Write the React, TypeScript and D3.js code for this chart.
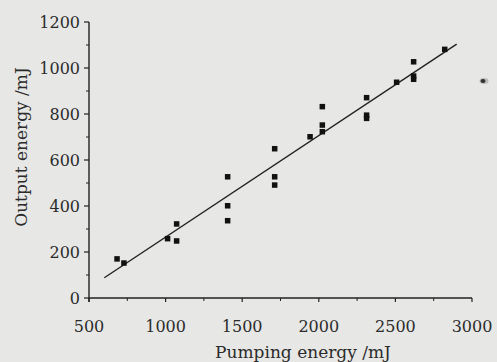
import * as d3 from 'd3';
import { FC } from 'react';

// measured points (pumping energy, output energy)
const pumpEnergy = [683, 728, 1013, 1072, 1072, 1405, 1405, 1405, 1712, 1712, 1712, 1943, 2023, 2023, 2023, 2312, 2312, 2312, 2508, 2619, 2619, 2619, 2822];
const outputEnergy = [170, 152, 258, 322, 248, 527, 401, 336, 649, 527, 491, 701, 832, 752, 723, 871, 795, 781, 938, 1027, 965, 951, 1081];

// linear fit
const fitX = [600, 2900];
const fitY = [88, 1104];

const xTicks = [500, 1000, 1500, 2000, 2500, 3000];
const xMinor = [750, 1250, 1750, 2250, 2750];
const yTicks = [0, 200, 400, 600, 800, 1000, 1200];
const yMinor = [100, 300, 500, 700, 900, 1100];

const W = 497;
const H = 362;
const ink = '#222';
const font = '"DejaVu Serif", serif';

const Chart: FC = () => {
  const x = d3.scaleLinear().domain([500, 3000]).range([89, 472]);
  const y = d3.scaleLinear().domain([0, 1200]).range([298, 22]);
  const line = d3
    .line<number>()
    .x((d) => x(d))
    .y((_, i) => y(fitY[i]));
  const sq = 5.5;

  return (
    <svg width={W} height={H} style={{ position: 'absolute', left: 0, top: 0 }} fontFamily={font}>
      <rect width={W} height={H} fill='#e7e7e5' />
      {/* axes */}
      <line x1={x(500)} x2={x(3000)} y1={y(0)} y2={y(0)} stroke={ink} strokeWidth={1.4} />
      <line x1={x(500)} x2={x(500)} y1={y(1200)} y2={y(0) + 4} stroke={ink} strokeWidth={1.4} />
      {xTicks.map((t) => (
        <g key={t}>
          <line x1={x(t)} x2={x(t)} y1={y(0)} y2={y(0) + 4} stroke={ink} strokeWidth={1.2} />
          <text x={x(t)} y={332} textAnchor='middle' fontSize={16} fill='#2b2b2b'>
            {t}
          </text>
        </g>
      ))}
      {xMinor.map((t) => (
        <line key={t} x1={x(t)} x2={x(t)} y1={y(0)} y2={y(0) + 3} stroke={ink} strokeWidth={1} />
      ))}
      {yTicks.map((t) => (
        <g key={t}>
          <line x1={x(500) - 5} x2={x(500)} y1={y(t)} y2={y(t)} stroke={ink} strokeWidth={1.2} />
          <text x={80} y={y(t) + 5.5} textAnchor='end' fontSize={16} fill='#2b2b2b'>
            {t}
          </text>
        </g>
      ))}
      {yMinor.map((t) => (
        <line key={t} x1={x(500) - 3} x2={x(500)} y1={y(t)} y2={y(t)} stroke={ink} strokeWidth={1} />
      ))}
      {/* fit line */}
      <path d={line(fitX) as string} fill='none' stroke={ink} strokeWidth={1.4} />
      {/* points */}
      {pumpEnergy.map((p, i) => (
        <rect key={i} x={x(p) - sq / 2} y={y(outputEnergy[i]) - sq / 2} width={sq} height={sq} fill='#111' />
      ))}
      {/* axis titles */}
      <text x={303} y={358} textAnchor='middle' fontSize={17} fill='#2b2b2b'>
        Pumping energy /mJ
      </text>
      <text transform='translate(27,147) rotate(-90)' textAnchor='middle' fontSize={17} fill='#2b2b2b'>
        Output energy /mJ
      </text>
      {/* little blot at the right edge of the scan */}
      <ellipse cx={484} cy={81} rx={4.5} ry={3} fill='#bbb' />
      <ellipse cx={483} cy={81} rx={2.5} ry={2} fill='#333' />
    </svg>
  );
};

export default function App() {
  return <Chart />;
}
